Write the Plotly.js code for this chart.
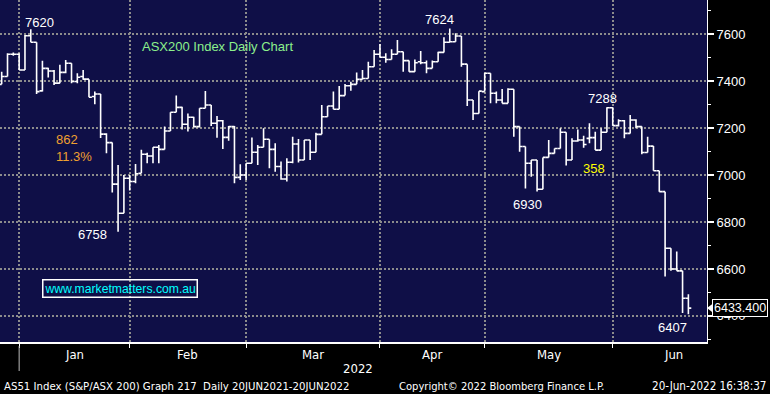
<!DOCTYPE html>
<html>
<head>
<meta charset="utf-8">
<script src="https://cdn.plot.ly/plotly-3.0.1.min.js"></script>
<style>
html,body{margin:0;padding:0;background:#000;}
#chart{width:770px;height:394px;}
</style>
</head>
<body>
<div id="chart"></div>
<script>
// Trading days (ASX200, AS51 Index)
const dates = [
"2021-12-24","2021-12-29","2021-12-30","2021-12-31",
"2022-01-04","2022-01-05","2022-01-06","2022-01-07","2022-01-10","2022-01-11","2022-01-12","2022-01-13","2022-01-14",
"2022-01-17","2022-01-18","2022-01-19","2022-01-20","2022-01-21","2022-01-24","2022-01-25","2022-01-27","2022-01-28","2022-01-31",
"2022-02-01","2022-02-02","2022-02-03","2022-02-04","2022-02-07","2022-02-08","2022-02-09","2022-02-10","2022-02-11",
"2022-02-14","2022-02-15","2022-02-16","2022-02-17","2022-02-18","2022-02-21","2022-02-22","2022-02-23","2022-02-24","2022-02-25","2022-02-28",
"2022-03-01","2022-03-02","2022-03-03","2022-03-04","2022-03-07","2022-03-08","2022-03-09","2022-03-10","2022-03-11",
"2022-03-14","2022-03-15","2022-03-16","2022-03-17","2022-03-18","2022-03-21","2022-03-22","2022-03-23","2022-03-24","2022-03-25",
"2022-03-28","2022-03-29","2022-03-30","2022-03-31",
"2022-04-01","2022-04-04","2022-04-05","2022-04-06","2022-04-07","2022-04-08","2022-04-11","2022-04-12","2022-04-13","2022-04-14",
"2022-04-19","2022-04-20","2022-04-21","2022-04-22","2022-04-26","2022-04-27","2022-04-28","2022-04-29",
"2022-05-02","2022-05-03","2022-05-04","2022-05-05","2022-05-06","2022-05-09","2022-05-10","2022-05-11","2022-05-12","2022-05-13",
"2022-05-16","2022-05-17","2022-05-18","2022-05-19","2022-05-20","2022-05-23","2022-05-24","2022-05-25","2022-05-26","2022-05-27",
"2022-05-30","2022-05-31",
"2022-06-01","2022-06-02","2022-06-03","2022-06-06","2022-06-07","2022-06-08","2022-06-09","2022-06-10",
"2022-06-14","2022-06-15","2022-06-16","2022-06-17","2022-06-20"
];
const opens = [
7386,7419,7514,7514,
7447,7593,7565,7358,7454,7443,7391,7437,7476,7398,7419,7408,7334,7345,7174,7138,6961,6837,6986,
6972,7007,7088,7081,7118,7109,7187,7267,7288,7216,7246,7206,7284,7298,7220,7231,7160,7206,6990,7000,
7050,7097,7118,7152,7109,7036,6983,7054,7132,7064,7149,7097,7173,7248,7294,7280,7338,7380,7386,7407,7411,7461,7514,
7501,7492,7514,7525,7487,7440,7482,7478,7454,7482,7522,7565,7567,7592,7472,7319,7262,7355,
7433,7348,7319,7305,7365,7206,7121,7050,7064,6939,7075,7092,7113,7182,7064,7145,7149,7156,7159,7106,7182,7286,
7210,7231,7177,7234,7206,7096,7123,7018,6929,6688,6600,6592,6475
];
const highs = [
7440,7518,7522,7518,
7596,7620,7565,7486,7457,7447,7469,7490,7476,7433,7447,7408,7355,7345,7178,7138,7043,7000,7000,
7047,7107,7095,7118,7128,7206,7267,7338,7291,7262,7248,7284,7358,7298,7251,7234,7209,7209,7046,7050,
7160,7128,7199,7152,7135,7057,7071,7163,7153,7149,7149,7180,7298,7294,7355,7379,7387,7397,7436,7447,7482,7532,7558,
7518,7535,7575,7525,7487,7492,7528,7487,7487,7525,7586,7624,7603,7592,7472,7319,7357,7435,
7433,7355,7366,7369,7365,7206,7121,7064,7064,7075,7149,7113,7199,7182,7156,7194,7167,7220,7184,7199,7288,7288,
7237,7234,7255,7237,7206,7163,7123,7018,6929,6688,6674,6592,6492
];
const lows = [
7386,7419,7508,7447,
7447,7565,7345,7355,7415,7383,7391,7433,7391,7391,7405,7331,7301,7157,7093,6925,6758,6837,6934,
6965,7007,7050,7050,7050,7109,7187,7267,7194,7185,7202,7202,7284,7209,7159,7111,7146,6965,6979,6979,
7050,7043,7118,7029,7014,6980,6972,7050,7053,7064,7064,7097,7173,7248,7280,7280,7338,7359,7386,7407,7411,7461,7501,
7478,7492,7514,7440,7440,7440,7471,7433,7454,7482,7522,7565,7567,7461,7294,7234,7262,7355,
7305,7305,7305,7305,7163,7099,6943,6993,6930,6939,7075,7092,7113,7040,7064,7142,7116,7135,7106,7106,7182,7210,
7206,7156,7177,7199,7088,7096,7018,6929,6568,6592,6592,6412,6407
];
const closes = [
7419,7514,7514,7447,
7593,7565,7355,7454,7443,7391,7437,7476,7398,7416,7408,7331,7345,7174,7138,6961,6837,6986,6972,
7005,7088,7081,7118,7109,7187,7267,7288,7216,7246,7206,7284,7298,7220,7231,7160,7206,6990,7000,7050,
7097,7118,7152,7109,7036,6983,7054,7132,7064,7149,7097,7173,7248,7294,7280,7338,7380,7386,7407,7411,7461,7514,7501,
7492,7514,7525,7487,7440,7478,7478,7454,7482,7522,7565,7567,7592,7472,7319,7262,7357,7433,
7348,7319,7305,7365,7206,7121,7050,7064,6939,7075,7092,7113,7182,7064,7145,7149,7130,7159,7106,7182,7286,7210,
7231,7177,7234,7206,7096,7123,7018,6929,6688,6600,6592,6475,6433.4
];
const monthNames = ["Jan","Feb","Mar","Apr","May","Jun"];
const yearLabel = "2022";
const yTicks = [6400,6600,6800,7000,7200,7400,7600];

// ---- layout helpers ----
const W = 770, H = 394, ML = 0, MR = 63, MT = 0, MB = 52;
const PW = W - ML - MR, PH = H - MT - MB;
const px = v => (v - ML) / PW;
const py = v => 1 - (v - MT) / PH;

const xIdx = dates.map((d, i) => i);
const bounds = [];
for (let i = 0; i < dates.length - 1; i++) {
  if (dates[i].slice(5, 7) !== dates[i + 1].slice(5, 7)) bounds.push(i);
}
const monthPos = bounds.map((b, k) => k < bounds.length - 1 ? (b + bounds[k + 1]) / 2 : b + 10.5);

const trace = {
  type: 'ohlc',
  x: xIdx, open: opens, high: highs, low: lows, close: closes,
  increasing: {line: {color: '#ffffff', width: 1.6}},
  decreasing: {line: {color: '#ffffff', width: 1.6}},
  tickwidth: 0.5,
  hoverinfo: 'skip',
  showlegend: false
};

const labFont = {family: 'Liberation Sans, Arial, sans-serif', size: 13, color: '#ffffff'};
const narrow = 'Liberation Sans Narrow, DejaVu Sans Condensed, Arial Narrow, sans-serif';

const annotations = [];
function txt(text, x, y, opts) {
  annotations.push(Object.assign({
    text: text, xref: 'paper', yref: 'paper', x: px(x), y: py(y),
    xanchor: 'center', yanchor: 'middle', showarrow: false, font: labFont
  }, opts || {}));
}
txt('7620', 39, 22);
txt('ASX200 Index Daily Chart', 217, 46, {font: Object.assign({}, labFont, {color: '#8cf08c'})});
txt('862', 54, 139, {xanchor: 'left', font: Object.assign({}, labFont, {color: '#f0a030'})});
txt('11.3%', 54, 156, {xanchor: 'left', font: Object.assign({}, labFont, {color: '#f0a030'})});
txt('6758', 92, 234);
txt('www.marketmatters.com.au', 120, 288.5, {font: Object.assign({}, labFont, {size: 12.2, color: '#00ffff'}),
  bordercolor: '#ffffff', borderwidth: 1.5, borderpad: 1});
txt('7624', 440, 19);
txt('6930', 527, 204);
txt('7288', 602, 98.5);
txt('358', 593.5, 168.5, {font: Object.assign({}, labFont, {color: '#ffff00'})});
txt('6407', 672, 327.5);

// month labels
monthNames.forEach((m, k) => {
  annotations.push({text: m, xref: 'x', yref: 'paper', x: monthPos[k], y: py(354),
    xanchor: 'center', yanchor: 'middle', showarrow: false,
    font: {family: narrow, size: 13, color: '#ffffff'}});
});
txt(yearLabel, 358, 368.5, {font: {family: narrow, size: 13, color: '#ffffff'}});
// footer
txt('AS51 Index (S&P/ASX 200) Graph 217  Daily 20JUN2021-20JUN2022', 2, 386,
  {xanchor: 'left', font: {family: narrow, size: 11.3, color: '#ffffff'}});
txt('Copyright\u00a9 2022 Bloomberg Finance L.P.', 501.5, 386,
  {font: {family: narrow, size: 11.1, color: '#ffffff'}});
txt('20-Jun-2022 16:38:37', 768, 386,
  {xanchor: 'right', font: {family: narrow, size: 11.6, color: '#ffffff'}});

// last price box
const lastClose = closes[closes.length - 1];
annotations.push({text: lastClose.toFixed(3), xref: 'paper', yref: 'y', x: px(712), y: lastClose,
  xanchor: 'left', yanchor: 'middle', showarrow: false,
  font: {family: 'Liberation Sans, Arial, sans-serif', size: 12.5, color: '#ffffff'},
  bgcolor: '#000000', bordercolor: '#ffffff', borderwidth: 1, borderpad: 1});

const shapes = [
  {type: 'path', xref: 'paper', yref: 'y',
   path: `M ${px(707)} ${lastClose} L ${px(713)} ${lastClose + 20} L ${px(713)} ${lastClose - 20} Z`,
   fillcolor: '#ffffff', line: {width: 0}},
  {type: 'line', xref: 'x', yref: 'paper', x0: bounds[0], x1: bounds[0], y0: py(346), y1: py(371),
   line: {color: '#bbbbbb', width: 1}}
];

const gridDash = '2px,2px';
const layout = {
  width: W, height: H,
  margin: {l: ML, r: MR, t: MT, b: MB, pad: 0},
  paper_bgcolor: '#000000',
  plot_bgcolor: '#0f0f47',
  showlegend: false,
  xaxis: {
    type: 'linear',
    range: [-0.29, 121.2],
    tickvals: bounds, showticklabels: false,
    ticks: 'outside', ticklen: 4, tickcolor: '#ffffff', tickwidth: 1,
    showgrid: true, gridcolor: '#8c8c8c', gridwidth: 2, griddash: gridDash,
    showline: true, linecolor: '#ffffff', linewidth: 2,
    zeroline: false, rangeslider: {visible: false}, fixedrange: true
  },
  yaxis: {
    side: 'right',
    range: [6289, 7745],
    tickvals: yTicks,
    ticks: 'outside', ticklen: 6, tickwidth: 2, tickcolor: '#ffffff',
    tickfont: {family: 'Liberation Sans, Arial, sans-serif', size: 13, color: '#ffffff'},
    minor: {tickvals: [6300,6500,6700,6900,7100,7300,7500,7700], ticks: 'outside', ticklen: 3, tickcolor: '#ffffff', tickwidth: 1, showgrid: false},
    showgrid: true, gridcolor: '#8c8c8c', gridwidth: 2, griddash: gridDash,
    showline: true, linecolor: '#ffffff', linewidth: 1,
    zeroline: false, fixedrange: true
  },
  annotations: annotations,
  shapes: shapes
};

Plotly.newPlot('chart', [trace], layout, {staticPlot: true, displayModeBar: false});
</script>
</body>
</html>
